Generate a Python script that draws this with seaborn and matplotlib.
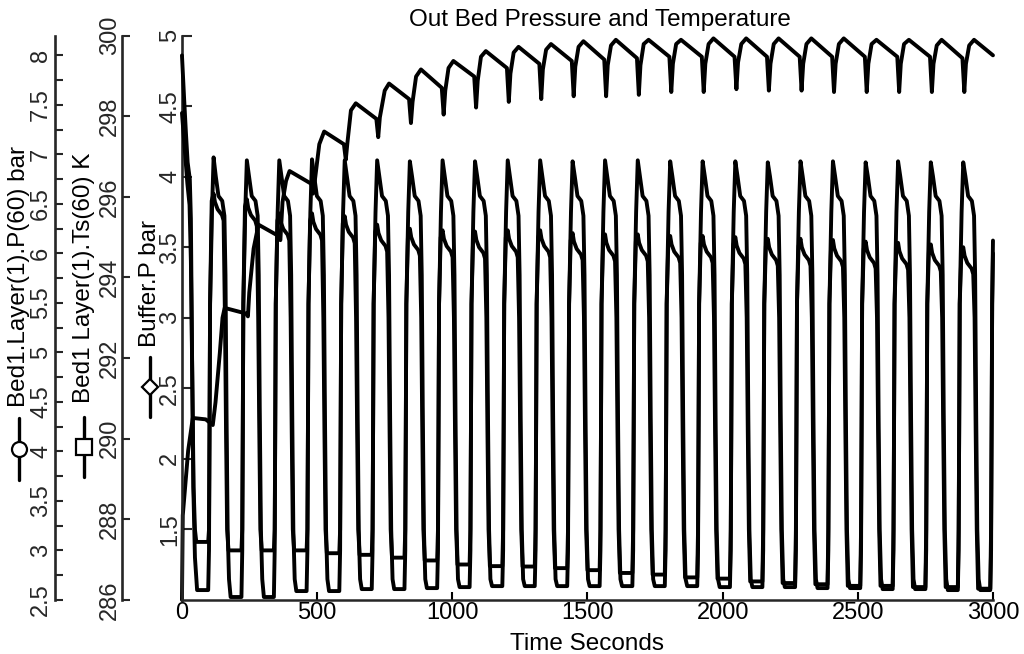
import matplotlib
matplotlib.use("Agg")
import matplotlib.pyplot as plt
from matplotlib.lines import Line2D
import seaborn as sns

# ---------------- data ----------------
time_ticks = [0, 500, 1000, 1500, 2000, 2500, 3000]
bed_ticks = [2.5, 3, 3.5, 4, 4.5, 5, 5.5, 6, 6.5, 7, 7.5, 8]
bed_minor = [2.75, 3.25, 3.75, 4.25, 4.75, 5.25, 5.75, 6.25, 6.75, 7.25, 7.75]
ts_ticks = [286, 288, 290, 292, 294, 296, 298, 300]
buf_ticks = [1.5, 2, 2.5, 3, 3.5, 4, 4.5, 5]

# time (s) of each Bed P peak, one per 120 s cycle
peak_t = [117, 240, 360, 481, 602, 722, 843, 964, 1084, 1205, 1325, 1445,
          1565, 1686, 1806, 1926, 2047, 2167, 2288, 2408, 2529, 2649, 2770, 2890]

# Bed1.Layer(1).P(60), bar
bed_start_t = [0, 8, 15, 21, 29, 33, 37, 42, 48, 56]
bed_start = [8.00, 7.56, 7.20, 6.92, 6.75, 6.35, 5.07, 3.64, 2.93, 2.60]
bed_dt = [-20, -17, -15, -13, -6, 0, 8, 18, 32, 40, 44, 48, 52, 57, 63]
bed_cycles = [
    [2.60, 3.00, 4.21, 5.49, 6.42, 6.97, 6.78, 6.58, 6.53, 6.38, 5.78, 4.35, 3.21, 2.71, 2.53],
    [2.53, 3.00, 4.21, 5.49, 6.42, 6.94, 6.78, 6.58, 6.53, 6.38, 5.78, 4.35, 3.21, 2.71, 2.53],
    [2.53, 3.00, 4.21, 5.49, 6.42, 6.94, 6.78, 6.58, 6.53, 6.38, 5.78, 4.35, 3.21, 2.71, 2.59],
    [2.59, 3.00, 4.21, 5.49, 6.42, 6.95, 6.78, 6.58, 6.53, 6.38, 5.78, 4.35, 3.21, 2.71, 2.59],
    [2.59, 3.00, 4.21, 5.49, 6.42, 6.94, 6.78, 6.58, 6.53, 6.38, 5.78, 4.35, 3.21, 2.71, 2.61],
    [2.61, 3.00, 4.21, 5.49, 6.42, 6.94, 6.78, 6.58, 6.53, 6.38, 5.78, 4.35, 3.21, 2.71, 2.61],
    [2.61, 3.00, 4.21, 5.49, 6.42, 6.93, 6.78, 6.58, 6.53, 6.38, 5.78, 4.35, 3.21, 2.71, 2.62],
    [2.62, 3.00, 4.21, 5.49, 6.42, 6.94, 6.78, 6.58, 6.53, 6.38, 5.78, 4.35, 3.21, 2.71, 2.63],
    [2.63, 3.00, 4.21, 5.49, 6.42, 6.93, 6.78, 6.58, 6.53, 6.38, 5.78, 4.35, 3.21, 2.71, 2.64],
    [2.64, 3.00, 4.21, 5.49, 6.42, 6.94, 6.78, 6.58, 6.53, 6.38, 5.78, 4.35, 3.21, 2.71, 2.64],
    [2.64, 3.00, 4.21, 5.49, 6.42, 6.94, 6.78, 6.58, 6.53, 6.38, 5.78, 4.35, 3.21, 2.71, 2.64],
    [2.64, 3.00, 4.21, 5.49, 6.42, 6.93, 6.78, 6.58, 6.53, 6.38, 5.78, 4.35, 3.21, 2.71, 2.64],
    [2.64, 3.00, 4.21, 5.49, 6.42, 6.94, 6.78, 6.58, 6.53, 6.38, 5.78, 4.35, 3.21, 2.71, 2.64],
    [2.64, 3.00, 4.21, 5.49, 6.42, 6.94, 6.78, 6.58, 6.53, 6.38, 5.78, 4.35, 3.21, 2.71, 2.64],
    [2.64, 3.00, 4.21, 5.49, 6.42, 6.93, 6.78, 6.58, 6.53, 6.38, 5.78, 4.35, 3.21, 2.71, 2.64],
    [2.64, 3.00, 4.21, 5.49, 6.42, 6.93, 6.78, 6.58, 6.53, 6.38, 5.78, 4.35, 3.21, 2.71, 2.63],
    [2.63, 3.00, 4.21, 5.49, 6.42, 6.93, 6.78, 6.58, 6.53, 6.38, 5.78, 4.35, 3.21, 2.71, 2.63],
    [2.63, 3.00, 4.21, 5.49, 6.42, 6.92, 6.78, 6.58, 6.53, 6.38, 5.78, 4.35, 3.21, 2.71, 2.63],
    [2.63, 3.00, 4.21, 5.49, 6.42, 6.93, 6.78, 6.58, 6.53, 6.38, 5.78, 4.35, 3.21, 2.71, 2.62],
    [2.62, 3.00, 4.21, 5.49, 6.42, 6.93, 6.78, 6.58, 6.53, 6.38, 5.78, 4.35, 3.21, 2.71, 2.62],
    [2.62, 3.00, 4.21, 5.49, 6.42, 6.92, 6.78, 6.58, 6.53, 6.38, 5.78, 4.35, 3.21, 2.71, 2.61],
    [2.61, 3.00, 4.21, 5.49, 6.42, 6.93, 6.78, 6.58, 6.53, 6.38, 5.78, 4.35, 3.21, 2.71, 2.61],
    [2.61, 3.00, 4.21, 5.49, 6.42, 6.92, 6.78, 6.58, 6.53, 6.38, 5.78, 4.35, 3.21, 2.71, 2.60],
    [2.60, 3.00, 4.21, 5.49, 6.42, 6.92, 6.78, 6.58, 6.53, 6.38, 5.78, 4.35, 3.21, 2.71, 2.60],
]
bed_end_t = [2990, 2993, 2995, 2997, 3000]
bed_end = [2.60, 3.00, 4.21, 5.49, 6.13]

# Bed1.Layer(1).Ts(60), K
ts_start_t = [0, 10, 20, 28, 33, 38, 43, 48, 53]
ts_start = [298.08, 297.20, 296.33, 295.80, 294.40, 291.60, 288.80, 287.75, 287.44]
ts_dt = [-20, -17, -15, -13, -7, 0, 5, 15, 31, 37, 42, 46, 50, 55]
ts_cycles = [
    [287.44, 287.75, 290.2, 293.35, 295.90, 296.08, 295.87, 295.69, 295.55, 295.41, 293.0, 290.2, 287.75, 287.23],
    [287.23, 287.75, 290.2, 293.35, 295.76, 295.94, 295.73, 295.55, 295.41, 295.27, 293.0, 290.2, 287.75, 287.23],
    [287.23, 287.75, 290.2, 293.35, 295.41, 295.59, 295.38, 295.20, 295.06, 294.92, 293.0, 290.2, 287.75, 287.23],
    [287.23, 287.75, 290.2, 293.35, 295.41, 295.59, 295.38, 295.20, 295.06, 294.92, 293.0, 290.2, 287.75, 287.16],
    [287.16, 287.75, 290.2, 293.35, 295.34, 295.52, 295.31, 295.13, 294.99, 294.85, 293.0, 290.2, 287.75, 287.12],
    [287.12, 287.75, 290.2, 293.35, 295.13, 295.31, 295.10, 294.92, 294.78, 294.64, 293.0, 290.2, 287.75, 287.05],
    [287.05, 287.75, 290.2, 293.35, 295.03, 295.21, 295.00, 294.82, 294.68, 294.54, 293.0, 290.2, 287.75, 286.98],
    [286.98, 287.75, 290.2, 293.35, 294.99, 295.17, 294.96, 294.78, 294.64, 294.50, 293.0, 290.2, 287.75, 286.88],
    [286.88, 287.75, 290.2, 293.35, 294.96, 295.14, 294.93, 294.75, 294.61, 294.47, 293.0, 290.2, 287.75, 286.84],
    [286.84, 287.75, 290.2, 293.35, 294.99, 295.17, 294.96, 294.78, 294.64, 294.50, 293.0, 290.2, 287.75, 286.83],
    [286.83, 287.75, 290.2, 293.35, 294.99, 295.17, 294.96, 294.78, 294.64, 294.50, 293.0, 290.2, 287.75, 286.79],
    [286.79, 287.75, 290.2, 293.35, 294.92, 295.10, 294.89, 294.71, 294.57, 294.43, 293.0, 290.2, 287.75, 286.74],
    [286.74, 287.75, 290.2, 293.35, 294.89, 295.07, 294.86, 294.68, 294.54, 294.40, 293.0, 290.2, 287.75, 286.67],
    [286.67, 287.75, 290.2, 293.35, 294.89, 295.07, 294.86, 294.68, 294.54, 294.40, 293.0, 290.2, 287.75, 286.63],
    [286.63, 287.75, 290.2, 293.35, 294.85, 295.03, 294.82, 294.64, 294.50, 294.36, 293.0, 290.2, 287.75, 286.56],
    [286.56, 287.75, 290.2, 293.35, 294.85, 295.03, 294.82, 294.64, 294.50, 294.36, 293.0, 290.2, 287.75, 286.53],
    [286.53, 287.75, 290.2, 293.35, 294.82, 295.00, 294.79, 294.61, 294.47, 294.33, 293.0, 290.2, 287.75, 286.46],
    [286.46, 287.75, 290.2, 293.35, 294.78, 294.96, 294.75, 294.57, 294.43, 294.29, 293.0, 290.2, 287.75, 286.42],
    [286.42, 287.75, 290.2, 293.35, 294.78, 294.96, 294.75, 294.57, 294.43, 294.29, 293.0, 290.2, 287.75, 286.39],
    [286.39, 287.75, 290.2, 293.35, 294.75, 294.93, 294.72, 294.54, 294.40, 294.26, 293.0, 290.2, 287.75, 286.35],
    [286.35, 287.75, 290.2, 293.35, 294.71, 294.89, 294.68, 294.50, 294.36, 294.22, 293.0, 290.2, 287.75, 286.35],
    [286.35, 287.75, 290.2, 293.35, 294.68, 294.86, 294.65, 294.47, 294.33, 294.19, 293.0, 290.2, 287.75, 286.32],
    [286.32, 287.75, 290.2, 293.35, 294.64, 294.82, 294.61, 294.43, 294.29, 294.15, 293.0, 290.2, 287.75, 286.32],
    [286.32, 287.75, 290.2, 293.35, 294.57, 294.75, 294.54, 294.36, 294.22, 294.08, 293.0, 290.2, 287.75, 286.28],
]
ts_end_t = [2990, 2993, 2995, 2997, 3000]
ts_end = [286.28, 287.75, 290.2, 293.35, 294.6]

# Buffer.P, bar
buf_t = [0, 3, 23, 40, 88, 114,
         124, 140, 150, 158, 237,
         244, 249, 265, 283, 357,
         364, 372, 385, 398, 478,
         485, 492, 508, 526, 599,
         606, 612, 625, 643, 719,
         726, 732, 750, 766, 840,
         847, 853, 866, 884, 961,
         968, 974, 986, 1004, 1081,
         1088, 1094, 1106, 1124, 1202,
         1209, 1215, 1227, 1245, 1322,
         1329, 1335, 1347, 1365, 1442,
         1449, 1455, 1467, 1485, 1562,
         1569, 1575, 1587, 1605, 1683,
         1690, 1696, 1708, 1726, 1803,
         1810, 1816, 1828, 1846, 1923,
         1930, 1936, 1948, 1966, 2044,
         2051, 2057, 2069, 2087, 2164,
         2171, 2177, 2189, 2207, 2285,
         2292, 2298, 2310, 2328, 2405,
         2412, 2418, 2430, 2448, 2526,
         2533, 2539, 2551, 2569, 2646,
         2653, 2659, 2671, 2689, 2767,
         2774, 2780, 2792, 2810, 2887,
         2894, 2900, 2912, 2930, 3000]
buf_p = [1.00, 1.60, 2.06, 2.29, 2.28, 2.24,
         2.40, 2.75, 3.00, 3.07, 3.03,
         3.01, 3.18, 3.49, 3.66, 3.58,
         3.55, 3.82, 3.97, 4.04, 3.95,
         3.88, 3.98, 4.23, 4.32, 4.23,
         4.12, 4.24, 4.47, 4.52, 4.41,
         4.28, 4.42, 4.61, 4.66, 4.55,
         4.38, 4.53, 4.71, 4.76, 4.63,
         4.44, 4.61, 4.77, 4.82, 4.71,
         4.49, 4.68, 4.85, 4.89, 4.77,
         4.53, 4.73, 4.88, 4.92, 4.80,
         4.55, 4.76, 4.90, 4.94, 4.82,
         4.57, 4.78, 4.92, 4.96, 4.83,
         4.57, 4.79, 4.93, 4.97, 4.84,
         4.58, 4.79, 4.94, 4.97, 4.85,
         4.60, 4.80, 4.94, 4.97, 4.85,
         4.60, 4.80, 4.94, 4.98, 4.85,
         4.62, 4.81, 4.94, 4.98, 4.85,
         4.61, 4.80, 4.94, 4.98, 4.85,
         4.61, 4.80, 4.94, 4.98, 4.85,
         4.60, 4.80, 4.94, 4.98, 4.85,
         4.60, 4.80, 4.94, 4.97, 4.85,
         4.60, 4.80, 4.94, 4.97, 4.85,
         4.60, 4.80, 4.93, 4.97, 4.84,
         4.60, 4.80, 4.93, 4.97, 4.86]


def join_cycles(start_t, start_v, dt, rows, end_t, end_v):
    """Chain the start-up, the per-cycle rows and the tail into one trace."""
    t, v = list(start_t), list(start_v)
    for p, row in zip(peak_t, rows):
        t += [p + d for d in dt]
        v += row
    return t + end_t, v + end_v


bed_t, bed_p = join_cycles(bed_start_t, bed_start, bed_dt, bed_cycles, bed_end_t, bed_end)
ts_t, ts_k = join_cycles(ts_start_t, ts_start, ts_dt, ts_cycles, ts_end_t, ts_end)

# ---------------- figure ----------------
sns.set_theme(style="ticks")
plt.rcParams["font.family"] = ["Liberation Sans", "DejaVu Sans"]
FS = 17

fig = plt.figure(figsize=(10.24, 6.54), dpi=100)
ax = fig.add_axes([0.1777, 0.0826, 0.792, 0.863])   # Buffer.P (host)
ax_ts = ax.twinx()
ax_bed = ax.twinx()

lw = 2.8
sns.lineplot(x=bed_t, y=bed_p, ax=ax_bed, color="black", linewidth=lw,
             sort=False, estimator=None, clip_on=False)
sns.lineplot(x=ts_t, y=ts_k, ax=ax_ts, color="black", linewidth=lw,
             sort=False, estimator=None, clip_on=False)
sns.lineplot(x=buf_t, y=buf_p, ax=ax, color="black", linewidth=lw,
             sort=False, estimator=None, clip_on=False)

ax.set_xlim(0, 3000)
ax.set_ylim(1, 5)
ax_ts.set_ylim(286, 300)
ax_bed.set_ylim(2.5, 8.2)

for a in (ax, ax_ts, ax_bed):
    a.spines["top"].set_visible(False)
    a.spines["right"].set_visible(False)
    a.spines["left"].set_linewidth(1.9)
    a.set_xlabel("")
    a.set_ylabel("")
for a in (ax_ts, ax_bed):
    a.spines["bottom"].set_visible(False)
    a.yaxis.set_ticks_position("left")
    a.yaxis.set_label_position("left")
ax.spines["bottom"].set_linewidth(1.8)
ax_ts.spines["left"].set_position(("axes", -0.074))
ax_bed.spines["left"].set_position(("axes", -0.1566))

ax.set_xticks(time_ticks)
ax.set_xticklabels([str(v) for v in time_ticks])
ax.tick_params(axis="x", direction="in", length=6, width=1.5, pad=1.5,
               labelsize=FS, colors="black")

ax.set_yticks(buf_ticks)
ax.set_yticklabels([f"{v:g}" for v in buf_ticks])
ax.tick_params(axis="y", direction="in", length=7, width=1.5, pad=0.5, labelsize=FS)

ax_ts.set_yticks(ts_ticks)
ax_ts.set_yticklabels([str(v) for v in ts_ticks])
ax_ts.tick_params(axis="y", direction="in", length=6, width=1.5, pad=0.5, labelsize=FS)

ax_bed.set_yticks(bed_ticks)
ax_bed.set_yticklabels([f"{v:g}" for v in bed_ticks])
ax_bed.set_yticks(bed_minor, minor=True)
ax_bed.tick_params(axis="y", which="both", direction="in", length=6, width=1.5,
                   pad=2, labelsize=FS)

for a in (ax, ax_ts, ax_bed):
    for lab in a.get_yticklabels():
        lab.set_rotation(90)
        lab.set_ha("right")
        lab.set_va("center")

# axis titles with their line keys (drawn in axes fractions of the host)
keys = [
    (-0.201, 0.213, 0.323, "o", 10.8, 0.342, "Bed1.Layer(1).P(60) bar"),
    (-0.1208, 0.218, 0.3245, "s", 11.0, 0.349, "Bed1 Layer(1).Ts(60) K"),
    (-0.0395, 0.3245, 0.431, "D", 8.5, 0.4486, "Buffer.P bar"),
]
for x, y0, y1, mk, ms, ty, label in keys:
    fig.add_artist(Line2D([x, x], [y0, y1], transform=ax.transAxes,
                          color="black", lw=2.4))
    fig.add_artist(Line2D([x], [(y0 + y1) / 2], transform=ax.transAxes,
                          marker=mk, ms=ms, mfc="white", mec="black", mew=1.6,
                          linestyle="none"))
    ax.text(x, ty, label, rotation=90, ha="center", va="bottom",
            transform=ax.transAxes, fontsize=17.5, color="black")

fig.text(0.586, 0.960, "Out Bed Pressure and Temperature", ha="center",
         va="baseline", fontsize=17.5, color="black")
fig.text(0.573, 0.006, "Time Seconds", ha="center", va="baseline",
         fontsize=17.5, color="black")

fig.savefig("out.png", dpi=100, facecolor="white")
